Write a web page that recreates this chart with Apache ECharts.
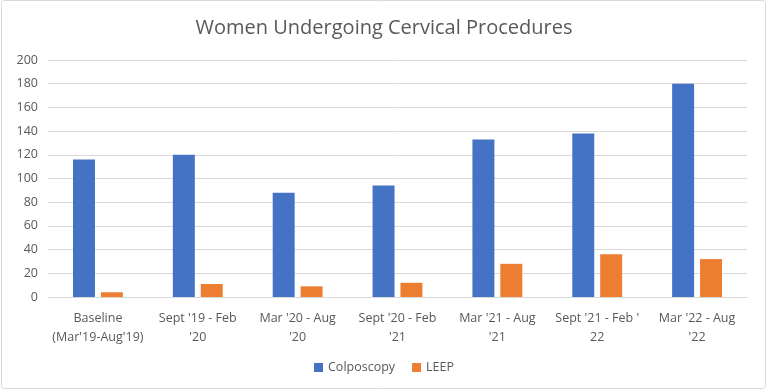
<!DOCTYPE html>
<html><head><meta charset="utf-8">
<script src="https://cdn.jsdelivr.net/npm/echarts@6/dist/echarts.min.js"></script>
<style>html,body{margin:0;padding:0;background:#fff}#c{width:768px;height:392px}</style>
</head><body><div id="c"></div>
<script>
const categories = ["Baseline\n(Mar'19-Aug'19)", "Sept '19 - Feb\n'20", "Mar '20 - Aug\n'20", "Sept '20 - Feb\n'21", "Mar '21 - Aug\n'21", "Sept '21 - Feb '\n22", "Mar '22 - Aug\n'22"];
const colposcopy = [116, 120, 88, 94, 133, 138, 180];
const leep = [4, 11, 9, 12, 28, 36, 32];
const yTicks = {min: 0, max: 200, interval: 20};

const chart = echarts.init(document.getElementById('c'), null, {renderer: 'canvas'});
const font = "'Open Sans', sans-serif";
chart.setOption({
  animation: false,
  backgroundColor: '#fff',
  graphic: [{type: 'rect', shape: {x: 1.5, y: 0.5, width: 764, height: 388, r: 3}, style: {fill: 'none', stroke: '#d9d9d9', lineWidth: 1}, silent: true}],
  title: {text: 'Women Undergoing Cervical Procedures', left: 'center', top: 13,
    textStyle: {fontFamily: font, fontSize: 20, fontWeight: 'normal', color: '#595959'}},
  legend: {bottom: 13, left: 'center', itemWidth: 9, itemHeight: 9, itemGap: 17, icon: 'rect',
    textStyle: {fontFamily: font, fontSize: 12.5, color: '#595959'},
    data: ['Colposcopy', 'LEEP']},
  grid: {left: 48, right: 21, top: 60, bottom: 95, containLabel: false},
  xAxis: {type: 'category', data: categories,
    axisLine: {lineStyle: {color: '#d9d9d9'}}, axisTick: {show: false},
    axisLabel: {fontFamily: font, fontSize: 12.5, color: '#595959', lineHeight: 19, margin: 12, interval: 0}},
  yAxis: {type: 'value', min: yTicks.min, max: yTicks.max, interval: yTicks.interval,
    axisLine: {show: false}, axisTick: {show: false},
    splitLine: {lineStyle: {color: '#d9d9d9'}},
    axisLabel: {fontFamily: font, fontSize: 12.5, color: '#595959', margin: 10}},
  series: [
    {name: 'Colposcopy', type: 'bar', data: colposcopy, barWidth: '22%', barGap: '27%', itemStyle: {color: '#4472c4'}},
    {name: 'LEEP', type: 'bar', data: leep, barWidth: '22%', itemStyle: {color: '#ed7d31'}}
  ]
});
</script></body></html>
